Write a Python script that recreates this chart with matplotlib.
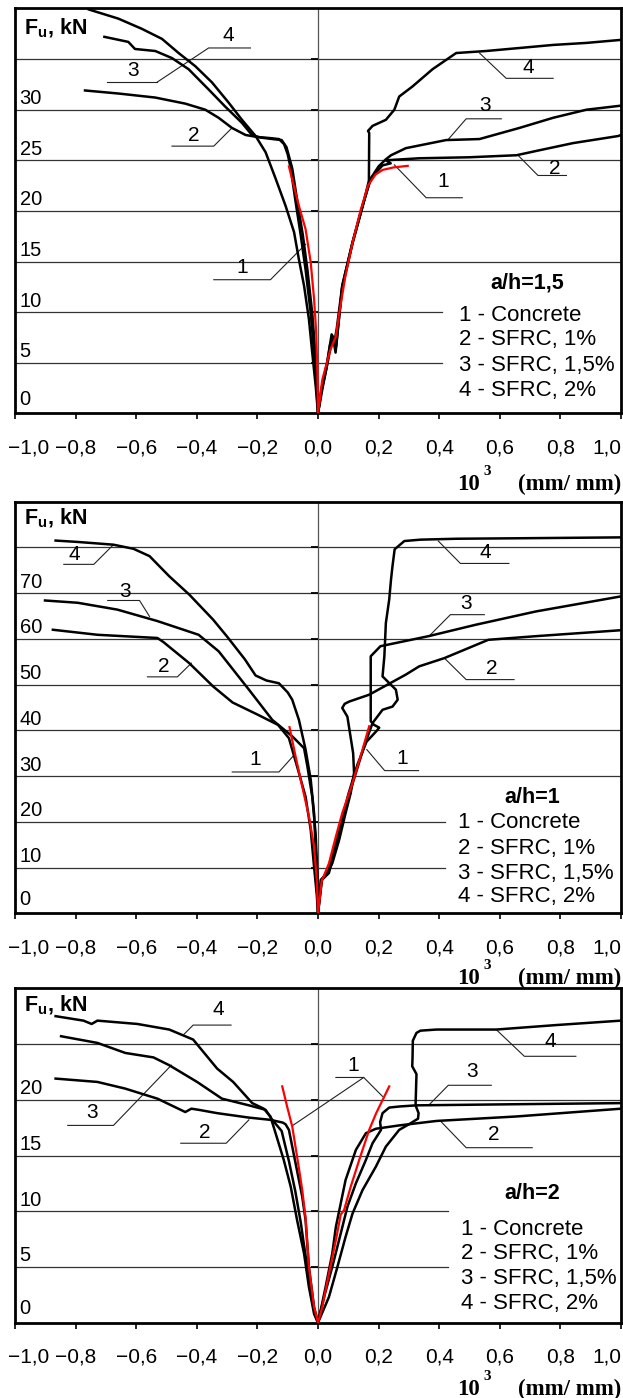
import matplotlib
matplotlib.use('Agg')
import matplotlib.pyplot as plt
import matplotlib.transforms as mtransforms

plt.rcParams['font.family'] = ['Liberation Sans', 'DejaVu Sans']
plt.rcParams['mathtext.fontset'] = 'custom'
plt.rcParams['mathtext.rm'] = 'Liberation Sans'
plt.rcParams['mathtext.bf'] = 'Liberation Sans:bold'

# ---- common ----
X_TICKS = [-1.0, -0.8, -0.6, -0.4, -0.2, 0.0, 0.2, 0.4, 0.6, 0.8, 1.0]
X_TICK_LABELS = ['\u22121,0', '\u22120,8', '\u22120,6', '\u22120,4', '\u22120,2',
                 '0,0', '0,2', '0,4', '0,6', '0,8', '1,0']
LEGEND_ITEMS = ['1 - Concrete', '2 - SFRC, 1%', '3 - SFRC, 1,5%', '4 - SFRC, 2%']
X_LABEL_BASE = '10'
X_LABEL_EXP = '3'
X_LABEL_UNIT = '(mm/ mm)'

# ---- panel 1 : a/h=1,5 ----
P1_C1_X = [-0.096, -0.080, -0.063, -0.041, -0.024, -0.013, -0.006, -0.002, 0.0,
           0.014, 0.040, 0.059, 0.068, 0.090, 0.115, 0.140, 0.165, 0.190, 0.213, 0.250, 0.296]
P1_C1_Y = [24.4, 22.5, 20.5, 18.2, 14.9, 11.3, 8.0, 4.0, 0.0,
           3.3, 6.2, 7.6, 9.5, 13.5, 17.0, 20.0, 22.5, 23.6, 24.05, 24.3, 24.45]
P1_C2_X = [-0.769, -0.659, -0.537, -0.438, -0.372, -0.328, -0.284, -0.239, -0.200, -0.160, -0.129,
           -0.112, -0.100, -0.090, -0.074, -0.057, -0.041, -0.024, -0.013, -0.005, 0.0,
           0.015, 0.035, 0.048, 0.060, 0.066, 0.080, 0.114, 0.147, 0.174, 0.213, 0.240, 0.224,
           0.334, 0.500, 0.655, 0.732, 0.842, 0.991, 1.0]
P1_C2_Y = [31.9, 31.6, 31.2, 30.6, 30.0, 29.2, 28.2, 27.5, 27.3, 27.2, 27.1,
           26.6, 25.6, 24.2, 20.9, 17.6, 14.2, 9.9, 6.0, 2.5, 0.0,
           2.5, 5.5, 7.6, 6.6, 8.5, 12.6, 16.9, 20.5, 23.2, 24.5, 24.7, 25.0,
           25.2, 25.3, 25.5, 26.0, 26.7, 27.4, 27.5]
P1_C3_X = [-0.705, -0.626, -0.604, -0.537, -0.482, -0.427, -0.361, -0.306, -0.251, -0.218, -0.190,
           -0.150, -0.120, -0.104, -0.085, -0.068, -0.050, -0.035, -0.019, -0.009, -0.003, 0.0,
           0.012, 0.030, 0.045, 0.055, 0.062, 0.080, 0.114, 0.147, 0.174, 0.200, 0.224, 0.241,
           0.290, 0.423, 0.533, 0.665, 0.776, 0.886, 1.0]
P1_C3_Y = [37.2, 36.7, 36.0, 35.8, 35.1, 34.0, 32.0, 30.3, 28.7, 27.5, 27.25,
           27.1, 27.0, 26.3, 24.2, 20.9, 17.6, 14.2, 9.9, 6.0, 2.5, 0.0,
           2.5, 5.0, 7.8, 7.2, 8.4, 12.6, 16.9, 20.5, 23.2, 24.4, 25.1, 25.5,
           26.2, 27.0, 27.1, 28.2, 29.2, 30.0, 30.4]
P1_C4_X = [-0.756, -0.659, -0.582, -0.515, -0.460, -0.405, -0.350, -0.295, -0.251, -0.206, -0.173,
           -0.140, -0.107, -0.079, -0.063, -0.046, -0.030, -0.019, -0.007, 0.0,
           0.010, 0.028, 0.040, 0.050, 0.058, 0.063, 0.080, 0.114, 0.147, 0.168, 0.169, 0.165,
           0.180, 0.224, 0.252, 0.268, 0.312, 0.378, 0.456, 0.555, 0.666, 0.776, 0.886, 1.0]
P1_C4_Y = [39.9, 39.0, 38.0, 37.0, 35.6, 34.3, 32.7, 30.7, 29.0, 27.4, 25.8,
           23.2, 20.5, 17.9, 15.2, 12.6, 9.3, 6.0, 2.5, 0.0,
           2.0, 4.5, 6.8, 7.4, 6.0, 7.5, 12.4, 16.8, 20.4, 23.0, 27.7, 27.9,
           28.4, 29.0, 30.0, 31.3, 32.3, 34.0, 35.6, 35.8, 36.1, 36.4, 36.6, 36.9]

# ---- panel 2 : a/h=1 ----
P2_C1_X = [-0.094, -0.074, -0.052, -0.030, -0.013, -0.004, 0.0,
           0.012, 0.036, 0.059, 0.080, 0.114, 0.147, 0.169]
P2_C1_Y = [40.7, 34.3, 27.7, 21.2, 14.6, 7.3, 0.0,
           7.0, 10.9, 16.8, 21.9, 28.5, 35.8, 40.9]
P2_C2_X = [-0.875, -0.728, -0.530, -0.510, -0.425, -0.346, -0.282, -0.198, -0.132, -0.096,
           -0.069, -0.041, -0.024, -0.013, -0.004, 0.0,
           0.009, 0.031, 0.047, 0.070, 0.091, 0.108, 0.119, 0.116, 0.097, 0.080, 0.088,
           0.103, 0.169, 0.224, 0.290, 0.334, 0.417, 0.562, 0.720, 1.0]
P2_C2_Y = [62.0, 60.9, 60.2, 59.3, 54.7, 49.6, 46.1, 43.4, 41.2, 38.3,
           32.1, 25.5, 18.2, 10.2, 4.0, 0.0,
           7.3, 8.8, 10.9, 16.1, 21.9, 26.3, 30.7, 35.0, 43.0, 44.9, 45.8,
           46.3, 47.8, 49.8, 52.2, 54.0, 55.8, 59.8, 60.6, 61.9]
P2_C3_X = [-0.901, -0.793, -0.662, -0.530, -0.394, -0.328, -0.228, -0.151, -0.085, -0.046,
           -0.035, -0.019, -0.008, -0.002, 0.0,
           0.012, 0.035, 0.070, 0.100, 0.130, 0.160, 0.195, 0.202, 0.185, 0.174, 0.174,
           0.206, 0.365, 0.521, 0.719, 1.0]
P2_C3_Y = [68.4, 67.9, 66.4, 63.9, 60.9, 57.3, 48.9, 42.3, 38.7, 36.1,
           32.1, 25.5, 17.5, 8.8, 0.0,
           7.3, 9.5, 18.0, 26.0, 32.5, 37.5, 40.0, 40.6, 41.2, 42.0, 56.2,
           58.4, 60.6, 63.1, 66.0, 69.3]
P2_C4_X = [-0.866, -0.793, -0.675, -0.609, -0.556, -0.491, -0.425, -0.346, -0.300, -0.241,
           -0.206, -0.170, -0.129, -0.100, -0.085, -0.063, -0.041, -0.024, -0.013, -0.006, 0.0,
           0.013, 0.036, 0.070, 0.091, 0.125, 0.152, 0.180, 0.213, 0.246, 0.263, 0.257,
           0.213, 0.219, 0.224, 0.235, 0.241, 0.246, 0.253, 0.285, 0.338, 0.457, 0.654, 1.0]
P2_C4_Y = [81.5, 81.2, 80.6, 79.7, 78.1, 73.7, 69.7, 64.2, 60.5, 55.5,
           52.0, 50.9, 50.3, 48.3, 46.7, 42.3, 35.8, 29.2, 21.9, 10.9, 0.0,
           7.3, 8.8, 17.5, 23.3, 30.7, 36.5, 41.6, 44.5, 45.2, 46.7, 48.9,
           51.8, 56.2, 63.5, 68.6, 73.0, 76.0, 79.6, 81.4, 81.7, 81.9, 82.0, 82.2]

# ---- panel 3 : a/h=2 ----
P3_C1_X = [-0.118, -0.102, -0.085, -0.069, -0.052, -0.041, -0.030, -0.013, 0.0,
           0.014, 0.036, 0.059, 0.075, 0.086, 0.108, 0.136, 0.169, 0.192, 0.219, 0.235]
P3_C1_Y = [21.2, 19.4, 17.6, 14.9, 11.9, 9.4, 5.0, 1.4, 0.0,
           1.4, 4.4, 7.4, 9.7, 10.1, 12.2, 14.6, 17.3, 18.8, 20.3, 21.2]
P3_C2_X = [-0.866, -0.728, -0.636, -0.530, -0.438, -0.418, -0.394, -0.333, -0.228, -0.157,
           -0.116, -0.107, -0.096, -0.074, -0.052, -0.041, -0.030, -0.013, 0.0,
           0.012, 0.025, 0.047, 0.059, 0.091, 0.125, 0.158, 0.191, 0.268, 0.391, 0.654, 1.0]
P3_C2_Y = [21.9, 21.6, 21.0, 20.1, 18.9, 19.2, 19.1, 18.8, 18.4, 18.2,
           17.95, 17.8, 17.3, 14.3, 11.3, 9.2, 5.0, 1.4, 0.0,
           1.5, 3.2, 6.2, 8.6, 12.8, 15.5, 17.0, 17.4, 17.7, 18.1, 18.5, 19.2]
P3_C3_X = [-0.848, -0.728, -0.636, -0.543, -0.491, -0.399, -0.317, -0.228, -0.173, -0.151,
           -0.120, -0.096, -0.075, -0.057, -0.040, -0.025, -0.010, 0.0,
           0.020, 0.047, 0.075, 0.097, 0.125, 0.158, 0.180, 0.208, 0.205, 0.213, 0.235,
           0.270, 0.325, 0.654, 1.0]
P3_C3_Y = [25.7, 25.1, 24.2, 23.8, 23.1, 21.6, 20.1, 19.5, 19.1, 18.2,
           17.2, 14.5, 11.8, 9.0, 5.8, 2.8, 0.7, 0.0,
           2.3, 5.0, 8.0, 10.4, 12.5, 14.6, 16.1, 17.3, 18.0, 18.8, 19.3,
           19.4, 19.5, 19.6, 19.7]
P3_C4_X = [-0.866, -0.774, -0.747, -0.728, -0.596, -0.491, -0.412, -0.333, -0.280, -0.217,
           -0.179, -0.157, -0.140, -0.113, -0.090, -0.069, -0.046, -0.030, -0.013, 0.0,
           0.036, 0.064, 0.091, 0.114, 0.147, 0.191, 0.224, 0.268, 0.300, 0.330, 0.332,
           0.322, 0.325, 0.311, 0.312, 0.313, 0.325, 0.338, 0.391, 0.588, 0.785, 1.0]
P3_C4_Y = [27.5, 27.1, 26.8, 27.1, 26.8, 26.3, 25.4, 22.8, 21.6, 19.7,
           19.2, 18.5, 17.0, 14.6, 12.2, 9.2, 6.2, 3.2, 0.8, 0.0,
           2.3, 5.0, 7.7, 9.8, 11.9, 14.0, 15.8, 17.3, 17.8, 18.3, 18.8,
           19.5, 22.3, 23.0, 23.8, 25.3, 26.0, 26.2, 26.3, 26.3, 26.7, 27.1]

# leader labels: text, text position, polyline to the curve
P1_LEADERS = [
    ('4', (-0.297, 37.3), [(-0.223, 36.1), (-0.361, 36.1), (-0.532, 32.7)]),
    ('3', (-0.611, 33.9), [(-0.698, 32.7), (-0.532, 32.7)]),
    ('2', (-0.411, 27.5), [(-0.482, 26.4), (-0.344, 26.4), (-0.284, 28.2)]),
    ('1', (-0.251, 14.4), [(-0.344, 13.2), (-0.157, 13.2), (-0.041, 16.7)]),
    ('4', (0.693, 34.2), [(0.776, 33.1), (0.621, 33.1), (0.533, 35.6)]),
    ('3', (0.552, 30.4), [(0.605, 29.1), (0.489, 29.1), (0.428, 27.0)]),
    ('2', (0.781, 24.2), [(0.820, 23.5), (0.726, 23.5), (0.660, 25.5)]),
    ('1', (0.412, 22.9), [(0.476, 21.3), (0.357, 21.3), (0.252, 24.55)]),
]
P2_LEADERS = [
    ('4', (-0.804, 78.5), [(-0.839, 76.3), (-0.740, 76.3), (-0.675, 80.6)]),
    ('3', (-0.638, 70.4), [(-0.694, 68.4), (-0.589, 68.4), (-0.556, 64.9)]),
    ('2', (-0.510, 54.0), [(-0.563, 51.7), (-0.464, 51.7), (-0.418, 54.7)]),
    ('1', (-0.208, 33.6), [(-0.283, 30.9), (-0.129, 30.9), (-0.083, 34.3)]),
    ('1', (0.279, 33.9), [(0.332, 31.2), (0.220, 31.2), (0.161, 35.8)]),
    ('4', (0.551, 78.8), [(0.630, 76.5), (0.470, 76.5), (0.397, 81.4)]),
    ('3', (0.489, 67.7), [(0.549, 65.3), (0.437, 65.3), (0.371, 60.9)]),
    ('2', (0.572, 53.6), [(0.647, 51.1), (0.489, 51.1), (0.417, 55.8)]),
]
P3_LEADERS = [
    ('4', (-0.329, 28.1), [(-0.287, 26.7), (-0.412, 26.7), (-0.445, 25.8)]),
    ('3', (-0.747, 18.9), [(-0.826, 17.7), (-0.675, 17.7), (-0.484, 23.1)]),
    ('2', (-0.375, 17.1), [(-0.453, 16.1), (-0.303, 16.1), (-0.228, 18.2)]),
    ('1', (0.115, 23.1), [(0.059, 22.0), (0.151, 22.0), (-0.083, 17.7)]),
    ('', (0.115, 23.1), [(0.151, 22.0), (0.213, 20.3)]),
    ('4', (0.766, 25.2), [(0.851, 23.9), (0.681, 23.9), (0.588, 26.3)]),
    ('3', (0.509, 22.5), [(0.572, 21.3), (0.430, 21.3), (0.365, 19.5)]),
    ('2', (0.581, 16.9), [(0.707, 15.7), (0.489, 15.7), (0.404, 18.1)]),
]

PANELS = [
    dict(title='a/h=1,5', pos=[0.02408, 0.70436, 0.97271, 0.28956], ylim=40,
         grid=[5, 10, 15, 20, 25, 30, 35], labels=[0, 5, 10, 15, 20, 25, 30],
         short=[5, 10], short_end=0.41,
         curves=[(P1_C2_X, P1_C2_Y), (P1_C3_X, P1_C3_Y), (P1_C4_X, P1_C4_Y)],
         red=(P1_C1_X, P1_C1_Y), leaders=P1_LEADERS,
         fu_y=0.952, title_xy=(0.845, 0.321), leg_x=0.7327,
         leg_y=[0.2428, 0.1811, 0.1193, 0.0575], xlabel_base=490),
    dict(title='a/h=1', pos=[0.02408, 0.34671, 0.97271, 0.29442], ylim=90,
         grid=[10, 20, 30, 40, 50, 60, 70, 80], labels=[0, 10, 20, 30, 40, 50, 60, 70],
         short=[10, 20], short_end=0.42,
         curves=[(P2_C2_X, P2_C2_Y), (P2_C3_X, P2_C3_Y), (P2_C4_X, P2_C4_Y)],
         red=(P2_C1_X, P2_C1_Y), leaders=P2_LEADERS,
         fu_y=0.960, title_xy=(0.854, 0.282), leg_x=0.7305,
         leg_y=[0.2201, 0.1579, 0.0972, 0.0403], xlabel_base=984),
    dict(title='a/h=2', pos=[0.02408, 0.05386, 0.97271, 0.23920], ylim=30,
         grid=[5, 10, 15, 20, 25], labels=[0, 5, 10, 15, 20],
         short=[5, 10], short_end=0.43,
         curves=[(P3_C2_X, P3_C2_Y), (P3_C3_X, P3_C3_Y), (P3_C4_X, P3_C4_Y)],
         red=(P3_C1_X, P3_C1_Y), leaders=P3_LEADERS,
         fu_y=0.948, title_xy=(0.854, 0.387), leg_x=0.7358,
         leg_y=[0.2802, 0.2055, 0.1307, 0.0580], xlabel_base=1395),
]

W, H = 623, 1398
fig = plt.figure(figsize=(W / 100, H / 100), dpi=100)
serif = ['Liberation Serif', 'DejaVu Serif']

for p in PANELS:
    ax = fig.add_axes(p['pos'])
    ax.set_xlim(-1.0, 1.0)
    ax.set_ylim(0, p['ylim'])
    for s in ax.spines.values():
        s.set_linewidth(2.0)
        s.set_color('black')

    # grid lines, some shortened to leave room for the legend
    for g in p['grid']:
        x_end = p['short_end'] if g in p['short'] else 1.0
        ax.plot([-1.0, x_end], [g, g], color='#333333', lw=0.9, zorder=1)
    ax.axvline(0, color='#555555', lw=0.9, zorder=1)
    ax.hlines(p['grid'], -0.022, 0, color='black', lw=1.3, zorder=1)

    # y labels drawn inside the plot
    for v in p['labels']:
        lift = 6 if v == 0 else 4
        ax.annotate(str(v), (-0.985, v), xytext=(0, lift), textcoords='offset points',
                    ha='left', va='baseline', fontsize=14.5)
    ax.set_yticks([])

    for cx, cy in p['curves']:
        ax.plot(cx, cy, color='black', lw=1.8, zorder=3, solid_joinstyle='round')
    ax.plot(p['red'][0], p['red'][1], color='#ff0000', lw=1.6, zorder=4)

    for txt, (tx, ty), pts in p['leaders']:
        ax.plot([q[0] for q in pts], [q[1] for q in pts], color='#222222', lw=0.8, zorder=2)
        if txt:
            ax.text(tx, ty, txt, ha='center', va='center', fontsize=15)

    ax.text(0.015, p['fu_y'], r'$\mathbf{F_u}$, kN', transform=ax.transAxes,
            ha='left', va='center', fontsize=15.5, fontweight='bold')
    ax.text(p['title_xy'][0], p['title_xy'][1], p['title'], transform=ax.transAxes,
            ha='center', va='center', fontsize=15.5, fontweight='bold')
    for lab, ly in zip(LEGEND_ITEMS, p['leg_y']):
        ax.text(p['leg_x'], ly, lab, transform=ax.transAxes,
                ha='left', va='center', fontsize=16)

    ax.set_xticks(X_TICKS)
    ax.set_xticklabels(X_TICK_LABELS, fontsize=15)
    ax.tick_params(axis='x', direction='out', length=4.5, width=1.2, pad=13.5)
    labels = ax.get_xticklabels()
    labels[0].set_transform(labels[0].get_transform() +
                            mtransforms.ScaledTranslation(10 / 72, 0, fig.dpi_scale_trans))
    labels[-1].set_transform(labels[-1].get_transform() +
                             mtransforms.ScaledTranslation(-10 / 72, 0, fig.dpi_scale_trans))

    # axis unit label: 10^3 (mm/ mm)
    yb = 1 - p['xlabel_base'] / H
    fig.text(621.5 / W, yb, X_LABEL_UNIT, ha='right', va='baseline',
             fontsize=16.5, fontweight='bold', family=serif)
    fig.text(480 / W, yb, X_LABEL_BASE, ha='right', va='baseline',
             fontsize=16.5, fontweight='bold', family=serif)
    fig.text(483 / W, yb + 15 / H, X_LABEL_EXP, ha='left', va='baseline',
             fontsize=11, fontweight='bold', family=serif)

fig.savefig('out.png', dpi=100)
